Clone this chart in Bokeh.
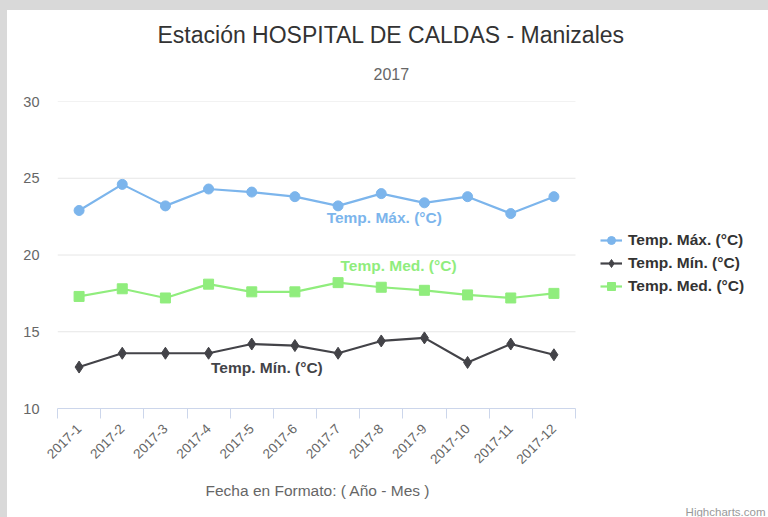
import numpy as np
from bokeh.plotting import figure
from bokeh.layouts import column
from bokeh.models import (Range1d, FixedTicker, Title, Label, Legend, LegendItem,
                          ColumnDataSource)
from bokeh.embed import file_html
from bokeh.resources import INLINE

# ---- data ----
categories = ["2017-1", "2017-2", "2017-3", "2017-4", "2017-5", "2017-6",
              "2017-7", "2017-8", "2017-9", "2017-10", "2017-11", "2017-12"]
temp_max = [22.9, 24.6, 23.2, 24.3, 24.1, 23.8, 23.2, 24.0, 23.4, 23.8, 22.7, 23.8]
temp_min = [12.7, 13.6, 13.6, 13.6, 14.2, 14.1, 13.6, 14.4, 14.6, 13.0, 14.2, 13.5]
temp_med = [17.3, 17.8, 17.2, 18.1, 17.6, 17.6, 18.2, 17.9, 17.7, 17.4, 17.2, 17.5]
y_ticks = [10, 15, 20, 25, 30]
series_names = ["Temp. Máx. (°C)", "Temp. Mín. (°C)", "Temp. Med. (°C)"]

FONT = "Liberation Sans"
C_MAX, C_MIN, C_MED = "#7cb5ec", "#434348", "#90ed7d"

n = len(categories)
idx = list(range(n))

# plot area: categories occupy 518px; frame continues to the right for the legend
FIG_W, FIG_H = 761, 507
LEFT, TOP, BOTTOM = 50, 91, 109
frame_w = FIG_W - LEFT
cat_px = 518 / n
x_end = -0.5 + frame_w / cat_px

p = figure(width=FIG_W, height=FIG_H, output_backend="svg", toolbar_location=None,
           x_range=Range1d(-0.5, x_end), y_range=Range1d(y_ticks[0], y_ticks[-1]),
           min_border_left=LEFT, min_border_right=0, min_border_top=TOP,
           min_border_bottom=BOTTOM, title=None)
p.outline_line_color = None
p.background_fill_color = "white"
p.border_fill_color = "white"

# titles
sub = Title(text="2017", align="left", offset=316, text_font=FONT,
            text_font_size="16px", text_color="#666666", text_font_style="normal",
            vertical_align="top", standoff=40)
p.add_layout(sub, "above")
ttl = Title(text="Estación HOSPITAL DE CALDAS - Manizales", align="left", offset=100,
            text_font=FONT, text_font_size="23px", text_color="#333333",
            text_font_style="normal", standoff=0)
p.add_layout(ttl, "above")

# x axis
xa = p.xaxis[0]
xa.bounds = (-0.5, n - 0.5)
xa.ticker = FixedTicker(ticks=idx, minor_ticks=[i - 0.5 for i in range(n + 1)])
xa.major_label_overrides = {i: c for i, c in zip(idx, categories)}
xa.major_tick_line_color = None
xa.minor_tick_line_color = "#ccd6eb"
xa.minor_tick_in = 0
xa.minor_tick_out = 10
xa.axis_line_color = "#ccd6eb"
xa.major_label_orientation = np.pi / 4
xa.major_label_text_font = FONT
xa.major_label_text_font_size = "13.5px"
xa.major_label_text_color = "#666666"
xa.major_label_standoff = 8

xtitle = Title(text="Fecha en Formato: ( Año - Mes )", align="left", offset=148,
               text_font=FONT, text_font_size="15.5px", text_color="#666666",
               text_font_style="normal", vertical_align="bottom", standoff=19)
p.add_layout(xtitle, "below")
cred = Title(text="Highcharts.com", align="right", offset=3, text_font=FONT,
             text_font_size="11.5px", text_color="#999999", text_font_style="normal",
             standoff=-10)
p.add_layout(cred, "below")

# y axis
ya = p.yaxis[0]
ya.ticker = FixedTicker(ticks=y_ticks)
ya.axis_line_color = None
ya.major_tick_line_color = None
ya.minor_tick_line_color = None
ya.major_label_text_font = FONT
ya.major_label_text_font_size = "14.5px"
ya.major_label_text_color = "#666666"
ya.major_label_standoff = 12

p.xgrid.grid_line_color = None
p.ygrid.grid_line_color = None
# horizontal grid lines limited to the category span
p.segment(x0=[-0.5] * (len(y_ticks) - 1), x1=[n - 0.5] * (len(y_ticks) - 1),
          y0=y_ticks[1:], y1=y_ticks[1:], line_color="#e6e6e6", line_width=1,
          level="underlay")

# series
src = ColumnDataSource(dict(x=idx, tmax=temp_max, tmin=temp_min, tmed=temp_med))
l1 = p.line("x", "tmax", source=src, line_color=C_MAX, line_width=2.2)
m1 = p.scatter("x", "tmax", source=src, marker="circle", size=10,
               fill_color=C_MAX, line_color=C_MAX)
l2 = p.line("x", "tmin", source=src, line_color=C_MIN, line_width=2.2)
m2 = p.scatter("x", "tmin", source=src, marker="diamond", size=12,
               fill_color=C_MIN, line_color=C_MIN)
l3 = p.line("x", "tmed", source=src, line_color=C_MED, line_width=2.2)
m3 = p.scatter("x", "tmed", source=src, marker="square", size=10,
               fill_color=C_MED, line_color=C_MED)

legend = Legend(items=[LegendItem(label=series_names[0], renderers=[l1, m1]),
                       LegendItem(label=series_names[1], renderers=[l2, m2]),
                       LegendItem(label=series_names[2], renderers=[l3, m3])],
                location=(543, 112), orientation="vertical",
                label_text_font=FONT, label_text_font_size="15.5px",
                label_text_font_style="bold", label_text_color="#333333",
                glyph_width=22, glyph_height=20, label_height=20, spacing=3,
                label_standoff=6, padding=0, margin=0,
                border_line_color=None, background_fill_alpha=0)
p.add_layout(legend, "center")

# series labels (Highcharts series-label style)
for txt, xx, yy, col in [(series_names[0], 7.57, 22.45, C_MAX),
                         (series_names[2], 7.9, 19.3, C_MED),
                         (series_names[1], 4.85, 12.67, C_MIN)]:
    p.add_layout(Label(x=xx - 0.5, y=yy, text=txt, text_align="center",
                       text_baseline="middle", text_font=FONT, text_font_size="15.5px",
                       text_font_style="bold", text_color=col))

page = column(p, styles={"background-color": "white",
                         "border-left": "7px solid #d9d9d9",
                         "border-top": "10px solid #d9d9d9"})
open("out.html", "w").write(file_html(page, INLINE))
